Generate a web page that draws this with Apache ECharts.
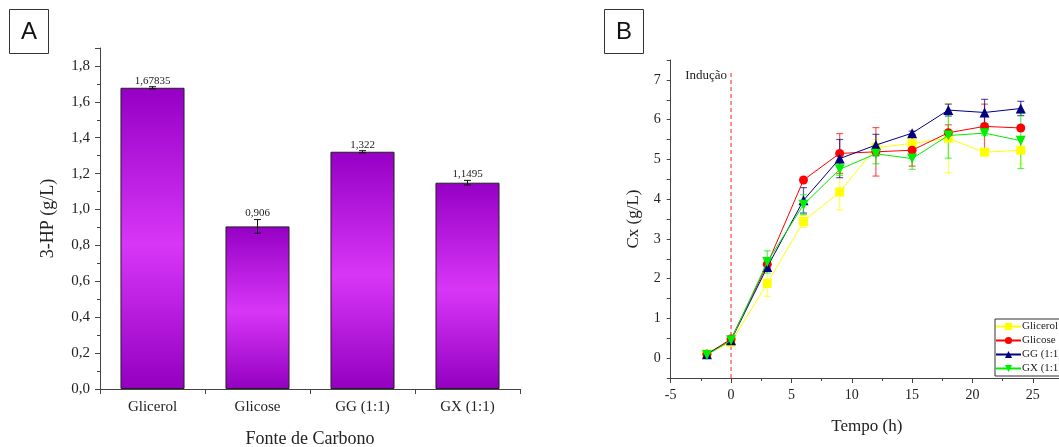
<!DOCTYPE html>
<html><head><meta charset="utf-8">
<script src="https://cdn.jsdelivr.net/npm/echarts@6/dist/echarts.min.js"></script>
<style>html,body{margin:0;padding:0;background:#fff}#c{width:1059px;height:447px}</style>
</head><body><div id="c"></div>
<script>
// ---- Panel A data ----
const catsA = ['Glicerol', 'Glicose', 'GG (1:1)', 'GX (1:1)'];
const hpValues = [1.67835, 0.906, 1.322, 1.1495];
const hpErrors = [0.006, 0.038, 0.006, 0.013];
const hpLabels = ['1,67835', '0,906', '1,322', '1,1495'];

// ---- Panel B data ----
const timeH = [-2, 0, 3, 6, 9, 12, 15, 18, 21, 24];
const seriesNames = ['Glicerol', 'Glicose', 'GG (1:1)', 'GX (1:1)'];
const cxGlicerol = [0.10, 0.40, 1.88, 3.44, 4.18, 5.30, 5.40, 5.53, 5.18, 5.23];
const cxGlicose  = [0.10, 0.48, 2.36, 4.48, 5.15, 5.19, 5.23, 5.67, 5.83, 5.79];
const cxGG       = [0.10, 0.45, 2.29, 3.97, 5.02, 5.36, 5.66, 6.24, 6.18, 6.28];
const cxGX       = [0.08, 0.45, 2.42, 3.86, 4.75, 5.14, 5.02, 5.60, 5.66, 5.47];
const errGlicerol = [0.03, 0.04, 0.33, 0.15, 0.45, 0.20, 0.15, 0.87, 0.05, 0.35];
const errGlicose  = [0.03, 0.04, 0.10, 0.05, 0.50, 0.61, 0.40, 0.20, 0.56, 0.05];
const errGG       = [0.03, 0.04, 0.10, 0.32, 0.48, 0.27, 0.05, 0.15, 0.33, 0.18];
const errGX       = [0.03, 0.04, 0.28, 0.25, 0.15, 0.25, 0.27, 0.57, 0.05, 0.70];
const inductionTime = 0;
const inductionTop = 7.25;
const inductionLabel = 'Indução';

const serif = 'Liberation Serif';
const axisCol = '#444';
const textCol = '#222';

const chart = echarts.init(document.getElementById('c'), null, {renderer: 'canvas'});

const barGrad = new echarts.graphic.LinearGradient(0, 0, 0, 1, [
  {offset: 0, color: '#9500C4'},
  {offset: 0.52, color: '#D836F7'},
  {offset: 1, color: '#9300C0'}
]);

function errBarA(params, api) {
  const i = api.value(0);
  const v = api.value(1), e = api.value(2);
  const top = api.coord([i, v + e]);
  const bot = api.coord([i, v - e]);
  const cw = 3.5;
  return {
    type: 'group',
    children: [
      {type: 'line', shape: {x1: top[0], y1: top[1], x2: bot[0], y2: bot[1]}, style: {stroke: '#111', lineWidth: 1}},
      {type: 'line', shape: {x1: top[0] - cw, y1: top[1], x2: top[0] + cw, y2: top[1]}, style: {stroke: '#111', lineWidth: 1}},
      {type: 'line', shape: {x1: bot[0] - cw, y1: bot[1], x2: bot[0] + cw, y2: bot[1]}, style: {stroke: '#111', lineWidth: 1}},
      {type: 'text', x: top[0], y: top[1] - 0.5, style: {text: hpLabels[params.dataIndex], font: '11px ' + serif, fill: textCol, align: 'center', verticalAlign: 'bottom'}}
    ]
  };
}

function makeErrB(color) {
  return function (params, api) {
    const t = api.value(0), lo = api.value(1), hi = api.value(2);
    const a = api.coord([t, hi]);
    const b = api.coord([t, lo]);
    const cw = 3.5;
    const st = {stroke: color, lineWidth: 1.2, opacity: 0.65};
    return {
      type: 'group',
      children: [
        {type: 'line', shape: {x1: a[0], y1: a[1], x2: b[0], y2: b[1]}, style: st},
        {type: 'line', shape: {x1: a[0] - cw, y1: a[1], x2: a[0] + cw, y2: a[1]}, style: st},
        {type: 'line', shape: {x1: b[0] - cw, y1: b[1], x2: b[0] + cw, y2: b[1]}, style: st}
      ]
    };
  };
}

const cxSets = [cxGlicerol, cxGlicose, cxGG, cxGX];
const errSets = [errGlicerol, errGlicose, errGG, errGX];
const colors = ['#FFFF00', '#FF0000', '#000080', '#00EE00'];
const symbols = ['rect', 'circle', 'triangle', 'triangle'];
const symRot = [0, 0, 0, 180];
const symSize = [9, 9, 10, 10];

const seriesB = [];
cxSets.forEach((vals, k) => {
  seriesB.push({
    type: 'custom', xAxisIndex: 1, yAxisIndex: 1, silent: true, z: 1,
    renderItem: makeErrB(colors[k]),
    data: timeH.map((t, i) => [t, vals[i] - errSets[k][i], vals[i] + errSets[k][i]])
  });
});
cxSets.forEach((vals, k) => {
  seriesB.push({
    name: seriesNames[k], type: 'line', xAxisIndex: 1, yAxisIndex: 1, z: 3 + k,
    data: timeH.map((t, i) => [t, vals[i]]),
    symbol: symbols[k], symbolSize: symSize[k], symbolRotate: symRot[k],
    lineStyle: {color: colors[k], width: 1},
    itemStyle: {color: colors[k]},
    showSymbol: true
  });
});
seriesB.push({
  type: 'custom', xAxisIndex: 1, yAxisIndex: 1, silent: true, z: 2,
  renderItem: function (params, api) {
    const t = api.value(0);
    const a = api.coord([t, api.value(1)]);
    const b = api.coord([t, api.value(2)]);
    return {
      type: 'group',
      children: [
        {type: 'line', shape: {x1: a[0], y1: a[1], x2: b[0], y2: b[1]}, style: {stroke: '#FF6B6B', lineWidth: 1.5, lineDash: [4, 3]}},
        {type: 'text', x: b[0] - 4, y: b[1] + 6, style: {text: inductionLabel, font: '13px ' + serif, fill: textCol, align: 'right', verticalAlign: 'middle'}}
      ]
    };
  },
  data: [[inductionTime, -0.5, inductionTop]]
});

const option = {
  animation: false,
  backgroundColor: '#fff',
  graphic: [
    {type: 'rect', shape: {x: 9.5, y: 9.5, width: 39, height: 44}, style: {fill: '#fff', stroke: '#333', lineWidth: 1}},
    {type: 'text', x: 29, y: 32, style: {text: 'A', font: '24px Liberation Sans', fill: '#111', align: 'center', verticalAlign: 'middle'}},
    {type: 'rect', shape: {x: 604.5, y: 9.5, width: 39, height: 44}, style: {fill: '#fff', stroke: '#333', lineWidth: 1}},
    {type: 'text', x: 624, y: 32, style: {text: 'B', font: '24px Liberation Sans', fill: '#111', align: 'center', verticalAlign: 'middle'}}
  ],
  legend: {
    data: seriesNames,
    orient: 'vertical',
    left: 995, top: 319,
    itemWidth: 25, itemHeight: 9, itemGap: 3,
    padding: [2, 20, 2, 0],
    backgroundColor: '#fff',
    borderColor: '#333', borderWidth: 1,
    textStyle: {fontFamily: serif, fontSize: 11, lineHeight: 10, color: textCol, padding: [0, 0, 0, -4]},
    symbolRotate: 'inherit'
  },
  grid: [
    {left: 100, top: 48, width: 420, height: 341, outerBoundsMode: 'none', containLabel: false},
    {left: 670.7, top: 60, right: -4, height: 318, outerBoundsMode: 'none', containLabel: false}
  ],
  xAxis: [
    {
      type: 'category', gridIndex: 0, data: catsA,
      axisLine: {lineStyle: {color: axisCol, width: 1}},
      axisTick: {show: true, length: 5, lineStyle: {color: axisCol}},
      axisLabel: {fontFamily: serif, fontSize: 15, color: textCol, margin: 11},
      name: 'Fonte de Carbono', nameLocation: 'middle', nameGap: 41,
      nameTextStyle: {fontFamily: serif, fontSize: 18, color: textCol}
    },
    {
      type: 'value', gridIndex: 1, min: -5, max: 27.5, interval: 5,
      axisLine: {onZero: false, lineStyle: {color: axisCol, width: 1}},
      axisTick: {show: true, length: 5, lineStyle: {color: axisCol}},
      minorTick: {show: true, splitNumber: 2, length: 3, lineStyle: {color: axisCol}},
      splitLine: {show: false},
      axisLabel: {fontFamily: serif, fontSize: 14, color: textCol, margin: 10, showMaxLabel: false,
        formatter: v => (Math.abs(v % 5) < 1e-9 ? String(v) : '')},
      name: 'Tempo (h)', nameLocation: 'middle', nameGap: 40,
      nameTextStyle: {fontFamily: serif, fontSize: 17, color: textCol}
    }
  ],
  yAxis: [
    {
      type: 'value', gridIndex: 0, min: 0, max: 1.9, interval: 0.2,
      axisLine: {show: true, lineStyle: {color: axisCol, width: 1}},
      axisTick: {show: true, length: 5, lineStyle: {color: axisCol}},
      minorTick: {show: true, splitNumber: 2, length: 3, lineStyle: {color: axisCol}},
      splitLine: {show: false},
      axisLabel: {fontFamily: serif, fontSize: 15, color: textCol, margin: 10, showMaxLabel: false,
        formatter: v => v.toFixed(1).replace('.', ',')},
      name: '3-HP (g/L)', nameLocation: 'middle', nameGap: 43,
      nameTextStyle: {fontFamily: serif, fontSize: 18, color: textCol}
    },
    {
      type: 'value', gridIndex: 1, min: -0.5, max: 7.5, interval: 0.5,
      axisLine: {show: true, onZero: false, lineStyle: {color: axisCol, width: 1}},
      axisTick: {show: true, length: 4, lineStyle: {color: axisCol}},
      splitLine: {show: false},
      axisLabel: {fontFamily: serif, fontSize: 14, color: textCol, margin: 10,
        formatter: v => (Math.abs(v - Math.round(v)) < 1e-9 ? String(Math.round(v)) : '')},
      name: 'Cx (g/L)', nameLocation: 'middle', nameGap: 29,
      nameTextStyle: {fontFamily: serif, fontSize: 17, color: textCol}
    }
  ],
  series: [
    {
      type: 'bar', xAxisIndex: 0, yAxisIndex: 0, data: hpValues, barWidth: '61%',
      itemStyle: {color: barGrad, borderColor: '#222', borderWidth: 1}
    },
    {
      type: 'custom', xAxisIndex: 0, yAxisIndex: 0, silent: true, z: 5,
      renderItem: errBarA,
      data: hpValues.map((v, i) => [i, v, hpErrors[i]])
    }
  ].concat(seriesB)
};
chart.setOption(option);
</script>
</body></html>
